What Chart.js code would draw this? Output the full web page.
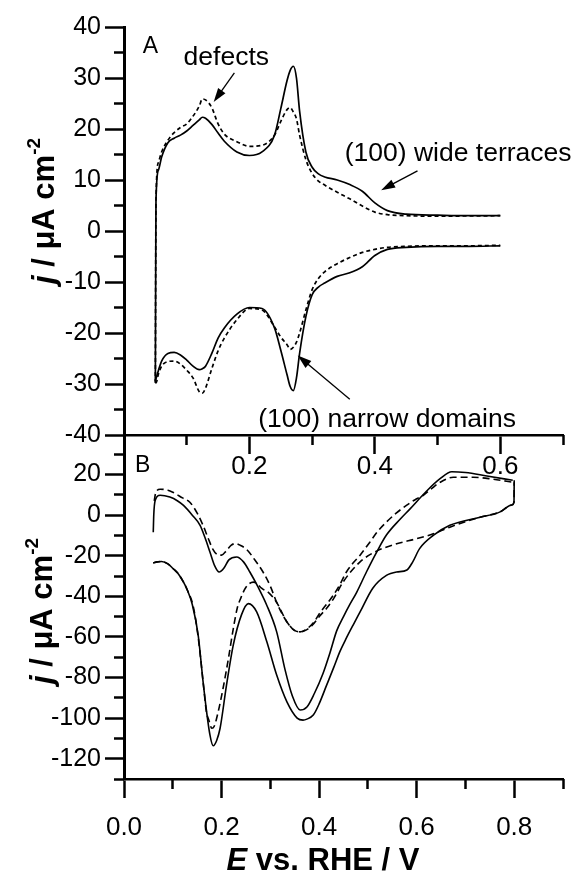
<!DOCTYPE html>
<html lang="en">
<head>
<meta charset="utf-8">
<title>Voltammograms</title>
<script src="https://cdn.jsdelivr.net/npm/chart.js@4.4.1/dist/chart.umd.min.js"></script>
<style>
  html, body { margin: 0; padding: 0; background: #fff; }
  #figure { position: relative; width: 580px; height: 874px; }
  #figure canvas { position: absolute; left: 0; top: 0; }
</style>
</head>
<body>
<div id="figure">
  <canvas id="panelB" width="580" height="874"></canvas>
  <canvas id="panelA" width="580" height="874"></canvas>
</div>
<script>
// Panel A: blank voltammograms, one potential grid shared by the four sweeps (V vs RHE, uA cm-2)
const potentialA = [0.05, 0.051, 0.055, 0.06, 0.07, 0.08, 0.09, 0.10, 0.11, 0.12, 0.125, 0.13, 0.14, 0.15, 0.16, 0.18, 0.20, 0.22, 0.24, 0.25,
    0.26, 0.265, 0.27, 0.275, 0.28, 0.29, 0.30, 0.31, 0.32, 0.34, 0.36, 0.38, 0.40, 0.42, 0.45, 0.50, 0.55, 0.60];
const anodicSolidA = [-29.5, 6, 12, 14.5, 17.3, 18.2, 18.8, 19.6, 20.7, 21.8, 22.3, 22.1, 20.9, 19.2, 17.6, 15.5, 14.8, 15.5, 18.8, 24,
    29.5, 31.5, 32.3, 30, 23.5, 15.5, 12.5, 11.2, 10.6, 10, 9.1, 7.8, 5.5, 4, 3.3, 3.1, 3.0, 3.0];
const cathodicSolidA = [-29.5, -29, -27.3, -25.5, -24, -23.8, -24.3, -25.3, -26.5, -27.2, -27, -26.5, -24, -21, -19, -16.3, -15, -15.2, -19, -23.4,
    -28.2, -30.5, -31.3, -28.8, -24, -16.8, -12.5, -11, -10.2, -8.9, -8.2, -7, -4.8, -3.6, -3.2, -3.0, -3.0, -2.9];
const anodicDashedA = [-29.8, 6, 13.5, 15.5, 17.8, 19.3, 20.3, 21, 22.5, 24.5, 25.9, 25.7, 24.2, 21, 19, 17.5, 16.6, 16.8, 18.8, 21.5,
    23.8, 24.2, 23.3, 22, 18.8, 14, 11.3, 9.8, 9, 7.6, 6.3, 4.9, 3.7, 3.2, 3.0, 2.9, 2.95, 3.0];
const cathodicDashedA = [-29.8, -29.8, -28, -26.5, -25.6, -25.5, -26.1, -27.3, -28.8, -31.5, -31.8, -30.8, -27, -23.5, -21, -17.4, -15.2, -15.5, -18.8, -20.8,
    -22.3, -23.2, -22.8, -21.8, -20, -15.5, -11.5, -9.3, -8, -6.4, -5.2, -4.2, -3.6, -3.2, -3.0, -2.9, -2.9, -2.8];

// Panel B: positive-going and negative-going sweeps (both stored in ascending potential)
const forwardSolidE = [0.06, 0.061, 0.064, 0.074, 0.094, 0.11, 0.122, 0.14, 0.156, 0.166, 0.176, 0.186, 0.195, 0.205, 0.215, 0.231, 0.245, 0.258, 0.275, 0.292,
    0.313, 0.33, 0.345, 0.361, 0.375, 0.39, 0.408, 0.422, 0.436, 0.45, 0.463, 0.477, 0.497, 0.518, 0.538, 0.566, 0.586, 0.62, 0.648, 0.672, 0.70, 0.744, 0.797];
const forwardSolidJ = [-8.4, 0, 7.4, 9.8, 8.9, 7, 4.8, 0, -5, -11, -18, -25, -28, -26, -22, -20.6, -23, -28, -35.5, -44,
    -57.5, -76, -89, -96, -94.5, -88, -78, -68, -57, -50, -44, -38, -28, -18.2, -9.8, -2, 3, 11.8, 18, 21.4, 21, 19.3, 17.2];
const backwardSolidE = [0.06, 0.068, 0.077, 0.09, 0.101, 0.11, 0.122, 0.13, 0.14, 0.152, 0.163, 0.176, 0.183, 0.19, 0.197, 0.21, 0.224, 0.241, 0.255, 0.272,
    0.293, 0.313, 0.334, 0.355, 0.367, 0.375, 0.388, 0.40, 0.415, 0.43, 0.443, 0.456, 0.47, 0.484, 0.51, 0.538, 0.559, 0.58, 0.592, 0.606,
    0.634, 0.668, 0.73, 0.77, 0.795, 0.7995, 0.8];
const backwardSolidJ = [-23.5, -23, -22.8, -24, -26.4, -28.5, -33, -37, -44, -59, -84, -108, -113.6, -111, -105, -84, -64, -49, -43.6, -47.7,
    -62.5, -78.8, -92, -100, -101, -100.5, -98.5, -93, -84, -75, -67, -60.5, -54, -47.7, -36, -29.7, -28, -27, -23, -16.5,
    -10, -5, -1, 1.5, 5, 6.4, 17.2];
const forwardDashedE = [0.062, 0.065, 0.074, 0.09, 0.10, 0.12, 0.135, 0.15, 0.162, 0.172, 0.182, 0.192, 0.20, 0.21, 0.22, 0.228, 0.238, 0.252, 0.268, 0.285,
    0.30, 0.313, 0.325, 0.334, 0.348, 0.361, 0.375, 0.39, 0.402, 0.415, 0.429, 0.443, 0.456, 0.47, 0.484, 0.504, 0.52, 0.538, 0.558, 0.579,
    0.596, 0.613, 0.63, 0.648, 0.675, 0.716, 0.757, 0.798];
const forwardDashedJ = [7, 11, 12.8, 12.3, 11.3, 8.5, 6.4, 1, -5, -11, -16.7, -19.5, -19.7, -17.5, -14.8, -14, -14.8, -17, -22, -28,
    -35, -43, -49, -52.6, -56.5, -57.5, -56, -52.5, -48, -44, -39.5, -34, -28, -23.5, -19.7, -13.3, -8, -3.4, 1, 4.8,
    7.5, 9.7, 13, 16.2, 18.7, 18.7, 17.7, 16.2];
const backwardDashedE = [0.06, 0.068, 0.077, 0.09, 0.101, 0.11, 0.122, 0.13, 0.142, 0.152, 0.163, 0.169, 0.174, 0.18, 0.185, 0.193, 0.203, 0.214, 0.224, 0.232,
    0.24, 0.25, 0.265, 0.272, 0.282, 0.298, 0.313, 0.334, 0.348, 0.36, 0.37, 0.385, 0.40, 0.415, 0.43, 0.449, 0.484, 0.518, 0.559, 0.60,
    0.634, 0.668, 0.73, 0.77, 0.795, 0.7995, 0.8];
const backwardDashedJ = [-23.5, -23, -22.8, -24, -26.4, -28.5, -33, -37, -45, -60, -84, -97, -101, -105, -104, -97, -85.4, -70.7, -56, -46,
    -40.5, -35.5, -33, -33.5, -36, -38.5, -43, -52.6, -56.5, -57.5, -57, -54.5, -50, -46, -41, -33, -23, -17.7, -14.1, -11.6,
    -9.2, -5.9, -1, 1.5, 5, 6.4, 16.2];

// axis ticks and their labels
const ticksCurrentA = [-40, -30, -20, -10, 0, 10, 20, 30, 40];
const labelsCurrentA = ['-40', '-30', '-20', '-10', '0', '10', '20', '30', '40'];
const minorCurrentA = [-35, -25, -15, -5, 5, 15, 25, 35];
const ticksPotentialA = [0, 0.2, 0.4, 0.6];
const labelsPotentialA = ['', '0.2', '0.4', '0.6'];
const minorPotentialA = [0.1, 0.3, 0.5, 0.7];
const ticksCurrentB = [-120, -100, -80, -60, -40, -20, 0, 20];
const labelsCurrentB = ['-120', '-100', '-80', '-60', '-40', '-20', '0', '20'];
const minorCurrentB = [-130, -110, -90, -70, -50, -30, -10, 10, 30];
const ticksPotentialB = [0, 0.2, 0.4, 0.6, 0.8];
const labelsPotentialB = ['0.0', '0.2', '0.4', '0.6', '0.8'];
const minorPotentialB = [0.1, 0.3, 0.5, 0.7, 0.9];

// callouts for panel A, positions in data units [E, j]
const calloutsA = [
    { text: 'defects', at: [0.095, 32.5], tail: [0.176, 31], tip: [0.143, 25.3] },
    { text: '(100) wide terraces', at: [0.352, 13.8], tail: [0.468, 11.8], tip: [0.41, 8] },
    { text: '(100) narrow domains', at: [0.214, -38.5], tail: [0.36, -33], tip: [0.277, -24.4] }
];

const SANS = "'Liberation Sans', Arial, Helvetica, sans-serif";

function toPoints(xs, ys) {
    return xs.map((x, i) => ({ x, y: ys[i] }));
}

function sweep(xs, ys, dash, width) {
    return {
        data: toPoints(xs, ys),
        showLine: true,
        borderColor: '#000',
        borderWidth: width,
        borderDash: dash,
        pointRadius: 0,
        cubicInterpolationMode: 'monotone',
        fill: false
    };
}

function fixedTicks(values) {
    return (scale) => { scale.ticks = values.map(value => ({ value })); };
}

function setThickness(size) {
    return (scale) => {
        if (scale.isHorizontal()) scale.height = size;
        else scale.width = size;
    };
}

// labelled axis with long ticks
function majorAxis(position, min, max, values, labels, size, padding) {
    const vertical = position === 'left';
    return {
        type: 'linear', position, min, max, weight: 1,
        afterBuildTicks: fixedTicks(values),
        afterFit: setThickness(size),
        border: { display: true, color: '#000', width: vertical ? 3 : 2.5 },
        grid: { drawOnChartArea: false, drawTicks: true, tickLength: 19, tickWidth: 2.5, tickColor: '#000' },
        ticks: {
            color: '#000', font: { family: SANS, size: vertical ? 25 : 26 }, padding,
            autoSkip: false, maxRotation: 0, minRotation: 0, callback: (v, i) => labels[i]
        }
    };
}

// zero-width companion axis that only draws the short ticks
function minorAxis(position, min, max, values) {
    return {
        type: 'linear', position, min, max, weight: 0,
        afterBuildTicks: fixedTicks(values),
        afterFit: setThickness(0),
        border: { display: false },
        grid: { drawOnChartArea: false, drawTicks: true, tickLength: 10, tickWidth: 2.5, tickColor: '#000' },
        ticks: { display: false }
    };
}

function drawRich(ctx, parts, x, y) {
    let total = 0;
    parts.forEach(p => { ctx.font = p.font; p.w = ctx.measureText(p.text).width; total += p.w; });
    let pos = x - total / 2;
    parts.forEach(p => { ctx.font = p.font; ctx.fillText(p.text, pos, y - (p.rise || 0)); pos += p.w; });
}

function drawCurrentTitle(ctx, baselineX, centerY) {
    ctx.save();
    ctx.translate(baselineX, centerY);
    ctx.rotate(-Math.PI / 2);
    drawRich(ctx, [
        { text: 'j', font: `italic bold 31px ${SANS}` },
        { text: ' / \u03bcA cm', font: `bold 31px ${SANS}` },
        { text: '-2', font: `bold 19px ${SANS}`, rise: 14 }
    ], 0, 0);
    ctx.restore();
}

function drawArrow(ctx, from, to) {
    const ang = Math.atan2(to[1] - from[1], to[0] - from[0]);
    const len = 14, half = 4.5;
    const cos = Math.cos(ang), sin = Math.sin(ang);
    ctx.lineWidth = 1.3;
    ctx.beginPath();
    ctx.moveTo(from[0], from[1]);
    ctx.lineTo(to[0] - cos * len * 0.8, to[1] - sin * len * 0.8);
    ctx.stroke();
    ctx.beginPath();
    ctx.moveTo(to[0], to[1]);
    ctx.lineTo(to[0] - len * cos + half * sin, to[1] - len * sin - half * cos);
    ctx.lineTo(to[0] - len * cos - half * sin, to[1] - len * sin + half * cos);
    ctx.closePath();
    ctx.fill();
}

const panelALabels = {
    id: 'panelALabels',
    afterDraw(chart) {
        const { ctx, scales: { x, y } } = chart;
        const px = (p) => [x.getPixelForValue(p[0]), y.getPixelForValue(p[1])];
        ctx.save();
        ctx.fillStyle = '#000';
        ctx.strokeStyle = '#000';
        ctx.textBaseline = 'alphabetic';
        ctx.textAlign = 'left';
        ctx.font = `23px ${SANS}`;
        ctx.fillText('A', x.getPixelForValue(0.03), y.getPixelForValue(34.9));
        calloutsA.forEach(c => {
            ctx.font = `26.5px ${SANS}`;
            const at = px(c.at);
            ctx.fillText(c.text, at[0], at[1]);
            drawArrow(ctx, px(c.tail), px(c.tip));
        });
        drawCurrentTitle(ctx, 54, 211);
        ctx.restore();
    }
};

const panelBLabels = {
    id: 'panelBLabels',
    afterDraw(chart) {
        const { ctx, scales: { x, y } } = chart;
        ctx.save();
        ctx.fillStyle = '#000';
        ctx.textBaseline = 'alphabetic';
        ctx.textAlign = 'left';
        ctx.font = `23px ${SANS}`;
        ctx.fillText('B', x.getPixelForValue(0.0225), y.getPixelForValue(21.4));
        drawCurrentTitle(ctx, 52, 611);
        drawRich(ctx, [
            { text: 'E', font: `italic bold 31px ${SANS}` },
            { text: ' vs. RHE / V', font: `bold 31px ${SANS}` }
        ], 323, 870);
        ctx.restore();
    }
};

const baseOptions = {
    responsive: false,
    animation: false,
    devicePixelRatio: 1,
    events: [],
    plugins: { legend: { display: false }, tooltip: { enabled: false } }
};

new Chart(document.getElementById('panelA'), {
    type: 'scatter',
    data: {
        datasets: [
            sweep(potentialA, cathodicSolidA, [], 1.7),
            sweep(potentialA, anodicSolidA, [], 1.7),
            sweep(potentialA, cathodicDashedA, [4, 3], 1.7),
            sweep(potentialA, anodicDashedA, [4, 3], 1.7)
        ]
    },
    options: {
        ...baseOptions,
        layout: { padding: { top: 27, right: 17, left: 0, bottom: 0 } },
        scales: {
            x: majorAxis('bottom', 0, 0.7, ticksPotentialA, labelsPotentialA, 439, -3),
            xMinor: minorAxis('bottom', 0, 0.7, minorPotentialA),
            y: majorAxis('left', -40, 40, ticksCurrentA, labelsCurrentA, 124, 4),
            yMinor: minorAxis('left', -40, 40, minorCurrentA)
        }
    },
    plugins: [panelALabels]
});

new Chart(document.getElementById('panelB'), {
    type: 'scatter',
    data: {
        datasets: [
            sweep(forwardSolidE, forwardSolidJ, [], 1.6),
            sweep(backwardSolidE, backwardSolidJ, [], 1.6),
            sweep(forwardDashedE, forwardDashedJ, [7, 4], 1.6),
            sweep(backwardDashedE, backwardDashedJ, [7, 4], 1.6)
        ]
    },
    options: {
        ...baseOptions,
        layout: { padding: { top: 434, right: 17, left: 0, bottom: 0 } },
        scales: {
            x: majorAxis('bottom', 0, 0.9, ticksPotentialB, labelsPotentialB, 95, 14),
            xMinor: minorAxis('bottom', 0, 0.9, minorPotentialB),
            y: majorAxis('left', -130, 40, ticksCurrentB, labelsCurrentB, 124, 4),
            yMinor: minorAxis('left', -130, 40, minorCurrentB)
        }
    },
    plugins: [panelBLabels]
});
</script>
</body>
</html>
